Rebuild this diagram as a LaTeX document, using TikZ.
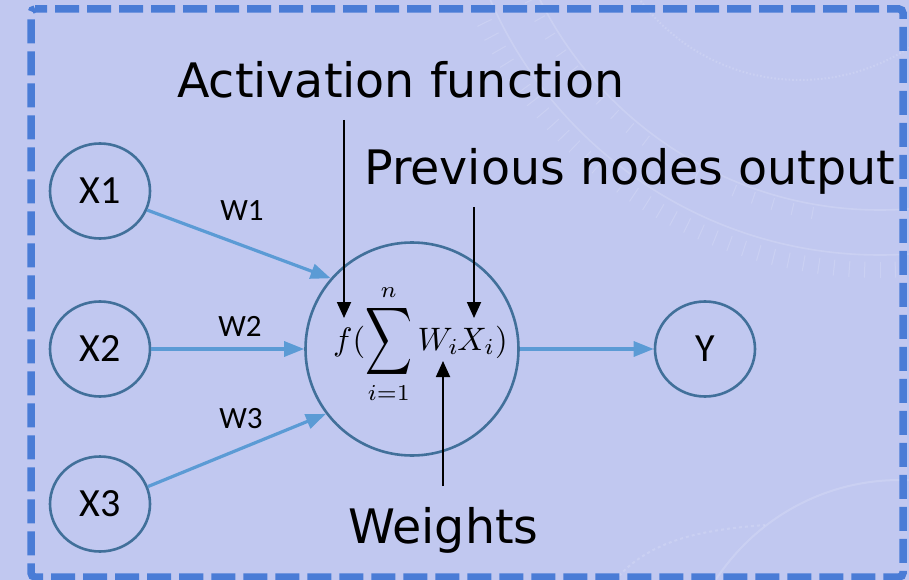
\documentclass[tikz,border=0pt]{standalone}
\usepackage{fontspec}
\usepackage{graphicx}
\usetikzlibrary{arrows.meta,shapes.geometric}
\newfontfamily\labelfont{DejaVu Sans}
\newfontfamily\calfont{Carlito}

\definecolor{panel}{HTML}{C1C8F0}
\definecolor{frame}{HTML}{4A7CD6}
\definecolor{ring}{HTML}{41709A}
\definecolor{link}{HTML}{5B9BD5}

\begin{document}
\begin{tikzpicture}[x=1pt,y=-1pt,
  neuron/.style={ellipse, draw=ring, line width=2.6pt, inner sep=0pt,
    minimum width=100pt, minimum height=95pt,
    font=\calfont\fontsize{40}{48}\selectfont},
  core/.style={circle, draw=ring, line width=2.6pt, inner sep=0pt,
    minimum size=213pt},
  weightlbl/.style={font=\calfont\fontsize{31}{37}\selectfont, inner sep=0pt},
  biglbl/.style={font=\labelfont\fontsize{47.5}{57}\selectfont, inner sep=0pt, anchor=base west},
  feed/.style={link, line width=3.2pt, -{Triangle[length=20pt,width=15pt]}},
  pointer/.style={black, line width=1.8pt, -{Triangle[length=16pt,width=14pt]}},
  faint/.style={white, opacity=0.16, line width=1.6pt}]

  % panel
  \fill[panel] (0,0) rectangle (909,580);
  \useasboundingbox (0,0) rectangle (909,580);

  % faint protractor watermark
  \begin{scope}
    \clip (470,0) rectangle (909,330);
    \draw[faint] (880,-170) circle[radius=425];
    \draw[faint] (880,-170) circle[radius=380];
    \foreach \a in {86,88,...,156}
      \draw[faint, line width=1pt] ([shift={(880,-170)}]\a:432) -- ([shift={(880,-170)}]\a:448);
    \foreach \a in {100,103,...,160}
      \draw[faint, line width=1pt] ([shift={(880,-170)}]\a:383) -- ([shift={(880,-170)}]\a:395);
    \draw[faint, dotted, line width=2pt] (800,-120) circle[radius=200];
  \end{scope}
  \begin{scope}
    \clip (560,380) rectangle (909,580);
    \draw[faint, dashed, line width=2pt] (615,580) .. controls (650,540) and (700,530) .. (765,525);
    \draw[faint, line width=2pt] (900,700) circle[radius=220];
  \end{scope}

  % dashed frame
  \draw[frame, line width=7.5pt, dash pattern=on 24pt off 8pt, dash phase=12pt,
        rounded corners=4pt]
    (31,9) -- (903,9) -- (903,577) -- (31,577) -- cycle;

  % neurons
  \node[neuron] (x1) at (100,191) {X1};
  \node[neuron] (x2) at (100,349) {X2};
  \node[neuron] (x3) at (100,504) {X3};
  \node[neuron] (y)  at (705,349) {Y};
  \node[core] (sum) at (412,349) {};

  % weighted formula, set at 10pt and enlarged
  \node[inner sep=0pt, anchor=base west] (formula) at (333,350)
    {\scalebox{3.25}{$\displaystyle f(\mathop{\vcenter{\hbox{\scalebox{1}[1.45]{$\displaystyle\sum$}}}}\limits_{i=1}^{n} W_i\mkern-1mu X_i)$}};

  % input and output links
  \draw[feed] (x1.-22) -- (sum.139);
  \draw[feed] (x2.east) -- (sum.west);
  \draw[feed] (x3.20) -- (sum.217);
  \draw[feed] (sum.east) -- (y.west);

  \node[weightlbl] (w1) at (242,211) {W1};
  \node[weightlbl] (w2) at (240,326) {W2};
  \node[weightlbl] (w3) at (241,419) {W3};

  % annotations
  \node[biglbl] (act)  at (177,98)  {Activation function};
  \node[biglbl] (prev) at (364,185) {Previous nodes output};
  \node[biglbl] (wts)  at (348,543) {Weights};

  \coordinate (actTop)  at (344,120);
  \coordinate (actTip)  at (344,318);
  \coordinate (prevTop) at (474,207);
  \coordinate (prevTip) at (474,318);
  \coordinate (wtsBot)  at (443,486);
  \coordinate (wtsTip)  at (443,361);

  \draw[pointer] (actTop) -- (actTip);
  \draw[pointer] (prevTop) -- (prevTip);
  \draw[pointer] (wtsBot) -- (wtsTip);
\end{tikzpicture}
\end{document}
